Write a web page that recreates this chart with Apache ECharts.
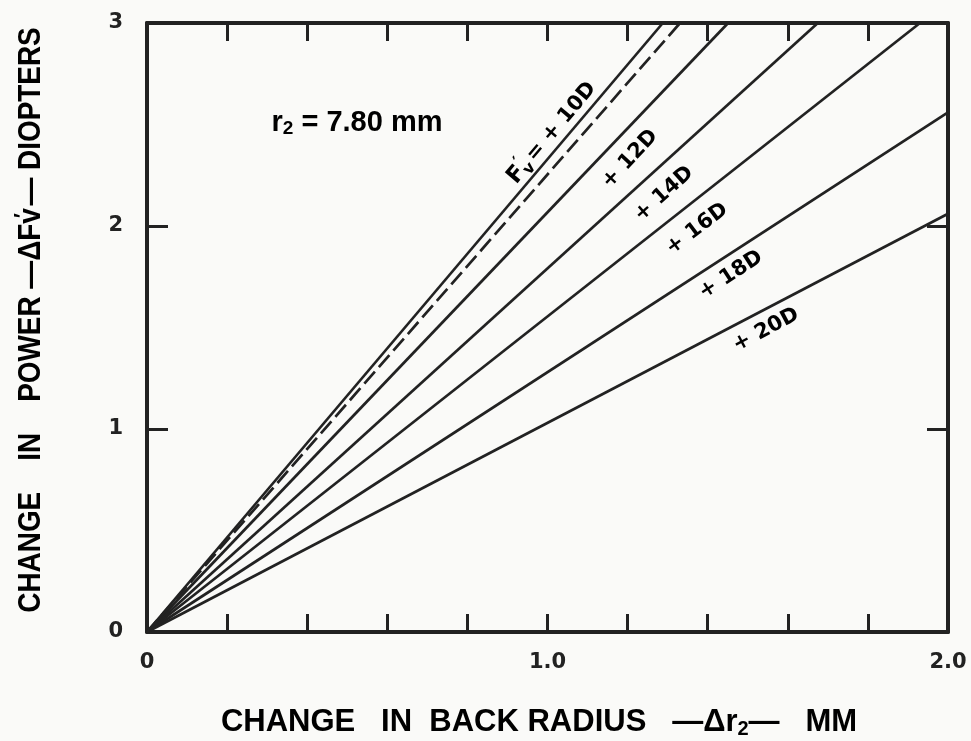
<!DOCTYPE html>
<html>
<head>
<meta charset="utf-8">
<script src="https://cdn.jsdelivr.net/npm/echarts@6/dist/echarts.min.js"></script>
<style>
  html, body { margin: 0; padding: 0; background: #fafaf8; }
  #chart { width: 971px; height: 741px; }
</style>
</head>
<body>
<div id="chart"></div>
<script>
// Lens power families (back vertex power Fv') and where each line ends
const powerLabels = ['+10D', '+12D', '+14D', '+16D', '+18D', '+20D'];
const endRadius   = [1.288, 1.451, 1.675, 1.930, 2.0, 2.0];   // Δr2 (mm) at line end
const endPower    = [3.0,   3.0,   3.0,   3.0,   2.56, 2.06]; // ΔFv' (D) at line end
// Companion dashed curve for the +10D lens
const dashedEnd   = [1.331, 3.0];

// Tick labels
const xTickLabels = { 0: '0', 1: '1.0', 2: '2.0' };
const yTickLabels = ['0', '1', '2', '3'];

const INK = '#222222';
const TITLE_FONT = 'Liberation Sans';
const NUM_FONT = 'DejaVu Sans';

const series = powerLabels.map((name, i) => ({
  name: name,
  type: 'line',
  showSymbol: false,
  silent: true,
  lineStyle: { color: INK, width: 2.7 },
  data: [[0, 0], [endRadius[i], endPower[i]]]
}));
series.push({
  name: '+10D (dashed)',
  type: 'line',
  showSymbol: false,
  silent: true,
  lineStyle: { color: INK, width: 2.7, type: [16, 6] },
  data: [[0, 0], dashedEnd]
});

const frameLine = { show: true, onZero: false, lineStyle: { color: INK, width: 4 } };
const innerTick = (len) => ({ show: true, inside: true, length: len, lineStyle: { color: INK, width: 3 } });

const chart = echarts.init(document.getElementById('chart'), null, { renderer: 'canvas' });

// Rotated curve labels along the lines
const curveLabels = [
  { x: 552, y: 133, rot: 50, text: '{f|F}{sub|v}{sup|\u2032}{b| = + 10D}' },
  { x: 630, y: 159, rot: 47, text: '{b|+ 12D}' },
  { x: 664, y: 194, rot: 42, text: '{b|+ 14D}' },
  { x: 697, y: 229, rot: 37, text: '{b|+ 16D}' },
  { x: 731, y: 275, rot: 33, text: '{b|+ 18D}' },
  { x: 766, y: 330, rot: 28, text: '{b|+ 20D}' }
];

const richCommon = {
  b:   { fontFamily: NUM_FONT, fontWeight: 'bold', fontSize: 21, color: INK },
  f:   { fontFamily: NUM_FONT, fontWeight: 'bold', fontSize: 23, color: INK },
  sub: { fontFamily: NUM_FONT, fontWeight: 'bold', fontSize: 16, color: INK, padding: [12, 0, 0, 0] },
  sup: { fontFamily: NUM_FONT, fontWeight: 'bold', fontSize: 17, color: INK, padding: [0, 0, 14, -9] },
  t:   { fontFamily: TITLE_FONT, fontWeight: 'bold', fontSize: 31, color: INK },
  ts:  { fontFamily: TITLE_FONT, fontWeight: 'bold', fontSize: 20, color: INK, padding: [14, 0, 0, 0] },
  tp:  { fontFamily: TITLE_FONT, fontWeight: 'bold', fontSize: 22, color: INK, padding: [0, 0, 16, -11] },
  r:   { fontFamily: TITLE_FONT, fontWeight: 'bold', fontSize: 29, color: INK },
  rs:  { fontFamily: TITLE_FONT, fontWeight: 'bold', fontSize: 19, color: INK, padding: [12, 0, 0, 0] }
};

const graphics = curveLabels.map(l => ({
  type: 'text',
  x: l.x, y: l.y,
  rotation: l.rot * Math.PI / 180,
  style: { text: l.text, rich: richCommon, align: 'center', verticalAlign: 'middle' }
}));

// Constant annotation
graphics.push({
  type: 'text', x: 357, y: 123,
  style: { text: '{r|r}{rs|2}{r| = 7.80 mm}', rich: richCommon, align: 'center', verticalAlign: 'middle' }
});
// Axis titles
graphics.push({
  type: 'text', x: 539, y: 722,
  style: { text: '{t|CHANGE   IN  BACK RADIUS   \u2014\u0394r}{ts|2}{t|\u2014   MM}', rich: richCommon, align: 'center', verticalAlign: 'middle' }
});
// Vertical title is set in narrower lettering
graphics.push({
  type: 'text', x: 31, y: 320,
  rotation: Math.PI / 2,
  scaleX: 0.9,
  style: { text: '{t|CHANGE    IN    POWER \u2014\u0394Fv}{tp|\u2032}{t| \u2014 DIOPTERS}', rich: richCommon, align: 'center', verticalAlign: 'middle' }
});

chart.setOption({
  backgroundColor: '#fafaf8',
  animation: false,
  grid: { left: 147, right: 23, top: 23, bottom: 109, containLabel: false },
  xAxis: [
    {
      type: 'value', position: 'bottom', min: 0, max: 2, interval: 0.2,
      axisLine: frameLine, axisTick: innerTick(18), splitLine: { show: false },
      axisLabel: {
        show: true, margin: 20, color: INK, fontFamily: NUM_FONT, fontWeight: 'bold', fontSize: 21,
        formatter: v => {
          const k = Math.round(v * 10);
          return k % 10 === 0 ? xTickLabels[k / 10] : '';
        }
      }
    },
    {
      type: 'value', position: 'top', min: 0, max: 2, interval: 0.2,
      axisLine: frameLine, axisTick: innerTick(18), splitLine: { show: false },
      axisLabel: { show: false }
    }
  ],
  yAxis: [
    {
      type: 'value', position: 'left', min: 0, max: 3, interval: 1,
      axisLine: frameLine, axisTick: innerTick(21), splitLine: { show: false },
      axisLabel: {
        show: true, margin: 24, color: INK, fontFamily: NUM_FONT, fontWeight: 'bold', fontSize: 21,
        formatter: v => yTickLabels[Math.round(v)]
      }
    },
    {
      type: 'value', position: 'right', min: 0, max: 3, interval: 1,
      axisLine: frameLine, axisTick: innerTick(21), splitLine: { show: false },
      axisLabel: { show: false }
    }
  ],
  series: series,
  graphic: graphics
});
</script>
</body>
</html>
